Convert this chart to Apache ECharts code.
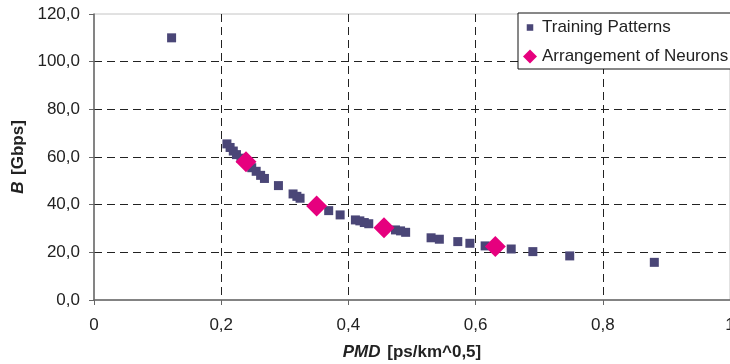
<!DOCTYPE html>
<html>
<head>
<meta charset="utf-8">
<script src="https://cdn.jsdelivr.net/npm/echarts@6/dist/echarts.min.js"></script>
<style>
  html, body { margin: 0; padding: 0; background: #fff; }
  #chart { width: 730px; height: 364px; }
</style>
</head>
<body>
<div id="chart"></div>
<script>
// PMD [ps/km^0,5] / B [Gbps]
const trainingX = [0.122, 0.209, 0.214, 0.219, 0.224, 0.231, 0.248, 0.255, 0.262, 0.268,
                   0.290, 0.313, 0.319, 0.324, 0.369, 0.387, 0.411, 0.418, 0.425, 0.432,
                   0.474, 0.482, 0.490, 0.530, 0.543, 0.572, 0.591, 0.615, 0.656, 0.690,
                   0.748, 0.881];
const trainingY = [110.0, 65.5, 64.0, 62.5, 61.0, 59.5, 55.5, 54.0, 52.3, 51.0,
                   48.0, 44.5, 43.5, 42.7, 37.5, 35.7, 33.6, 33.2, 32.5, 32.0,
                   29.4, 29.0, 28.4, 26.1, 25.5, 24.5, 23.8, 22.7, 21.4, 20.3,
                   18.5, 15.8];
const neuronX = [0.239, 0.350, 0.456, 0.631];
const neuronY = [58.0, 39.4, 30.3, 22.4];

const xTickLabels = ['0', '0,2', '0,4', '0,6', '0,8', '1'];
const yTickLabels = ['0,0', '20,0', '40,0', '60,0', '80,0', '100,0', '120,0'];

const font = 'Liberation Sans, Arial, sans-serif';
const txt = '#222';

const chart = echarts.init(document.getElementById('chart'));
chart.setOption({
  animation: false,
  textStyle: { fontFamily: font },
  grid: {
    left: 94, right: 0, top: 14, bottom: 64,
    outerBoundsMode: 'none',
    containLabel: false,
    show: true, borderColor: '#c4c4c4', borderWidth: 1
  },
  legend: {
    orient: 'vertical',
    left: 518, top: 13,
    padding: [6, 30, 4, 5],
    itemGap: 12,
    itemWidth: 14, itemHeight: 14,
    borderColor: '#111', borderWidth: 1,
    backgroundColor: '#fff',
    textStyle: { fontSize: 17, color: txt, fontFamily: font },
    data: [
      { name: 'Training Patterns', icon: 'path://M0,0L0,0M4,4L11,4L11,11L4,11ZM15,15L15,15' },
      { name: 'Arrangement of Neurons', icon: 'diamond' }
    ]
  },
  xAxis: {
    type: 'value', min: 0, max: 1, interval: 0.2,
    name: '{bi|PMD}  {b|[ps/km^0,5]}',
    nameLocation: 'middle', nameGap: 44,
    nameTextStyle: {
      rich: {
        bi: { fontSize: 17, fontWeight: 'bold', fontStyle: 'italic', color: txt, fontFamily: font },
        b: { fontSize: 17, fontWeight: 'bold', color: txt, fontFamily: font }
      }
    },
    axisLine: { show: true, lineStyle: { color: '#666', width: 1.5 } },
    axisTick: { show: true, length: 5, lineStyle: { color: '#666' } },
    axisLabel: {
      fontSize: 17, color: txt, margin: 17, hideOverlap: false,
      formatter: v => xTickLabels[Math.round(v / 0.2)]
    },
    splitLine: {
      show: true, showMinLine: false, showMaxLine: false,
      lineStyle: { color: '#222', type: [8, 5], width: 1 }
    }
  },
  yAxis: {
    type: 'value', min: 0, max: 120, interval: 20,
    name: '{bi|B}  {b|[Gbps]}',
    nameLocation: 'middle', nameGap: 62,
    nameTextStyle: {
      rich: {
        bi: { fontSize: 17, fontWeight: 'bold', fontStyle: 'italic', color: txt, fontFamily: font },
        b: { fontSize: 17, fontWeight: 'bold', color: txt, fontFamily: font }
      }
    },
    axisLine: { show: true, lineStyle: { color: '#666', width: 1.5 } },
    axisTick: { show: true, length: 5, lineStyle: { color: '#666' } },
    axisLabel: {
      fontSize: 17, color: txt, margin: 14,
      formatter: v => yTickLabels[Math.round(v / 20)]
    },
    splitLine: {
      show: true, showMinLine: false, showMaxLine: false,
      lineStyle: { color: '#222', type: [8, 5], width: 1 }
    }
  },
  series: [
    {
      name: 'Training Patterns',
      type: 'scatter',
      symbol: 'rect',
      symbolSize: 9,
      itemStyle: { color: '#4a4677', opacity: 1 },
      data: trainingX.map((x, i) => [x, trainingY[i]])
    },
    {
      name: 'Arrangement of Neurons',
      type: 'scatter',
      symbol: 'diamond',
      symbolSize: 21,
      itemStyle: { color: '#e6007e', opacity: 1 },
      data: neuronX.map((x, i) => [x, neuronY[i]])
    }
  ]
});
</script>
</body>
</html>
